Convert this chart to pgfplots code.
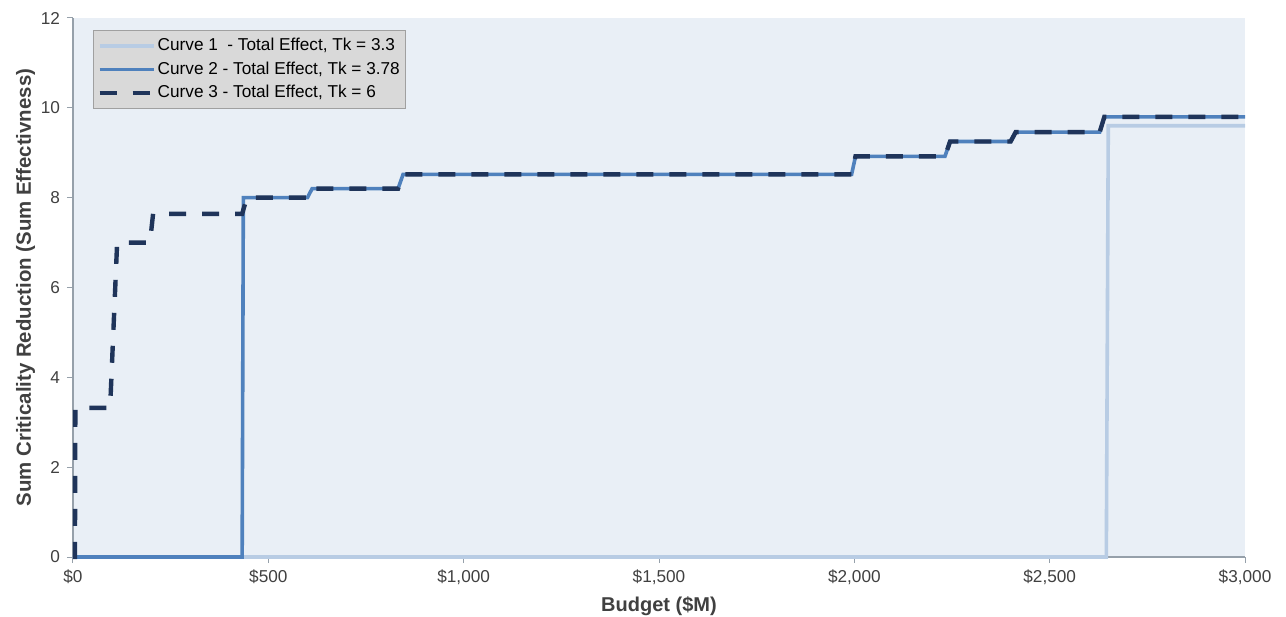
\documentclass[border=0pt]{standalone}
\usepackage{pgfplots}
\pgfplotsset{compat=1.18}
\usepackage{fontspec}
\setmainfont{Liberation Sans}
\definecolor{bgc}{RGB}{233,239,246}
\definecolor{cone}{RGB}{184,204,228}
\definecolor{ctwo}{RGB}{79,129,189}
\definecolor{cthree}{RGB}{31,52,90}
\definecolor{txt}{RGB}{64,64,64}
\definecolor{axc}{RGB}{150,160,170}
\begin{document}
\begin{tikzpicture}
\begin{axis}[
  name=ax,
  scale only axis,
  width=586pt, height=269.5pt,
  xmin=0, xmax=3000, ymin=0, ymax=12,
  axis background/.style={fill=bgc},
  axis x line*=bottom, axis y line*=left,
  axis line style={draw=axc, line width=0.6pt},
  xtick={0,500,1000,1500,2000,2500,3000},
  xticklabels={{\$0},{\$500},{\$1,000},{\$1,500},{\$2,000},{\$2,500},{\$3,000}},
  ytick={0,2,4,6,8,10,12},
  /pgf/number format/assume math mode=true,
  tick style={draw=axc, line width=0.5pt},
  tick align=outside,
  major tick length=3pt,
  ticklabel style={font=\fontsize{8.6pt}{10pt}\selectfont, text=txt},
  xlabel={\textbf{Budget (\$M)}},
  ylabel={\textbf{Sum Criticality Reduction (Sum Effectivness)}},
  xlabel style={font=\fontsize{10pt}{12pt}\selectfont, text=txt, yshift=1pt},
  ylabel style={font=\fontsize{10.2pt}{12pt}\selectfont, text=txt, yshift=-4pt},
  clip=false,
  legend style={at={(axis description cs:0.017,0.978)}, anchor=north west,
    fill={rgb,255:red,217;green,217;blue,217}, draw={rgb,255:red,160;green,160;blue,160},
    font=\fontsize{8.6pt}{10pt}\selectfont, text=black, row sep=0pt,
    inner xsep=2pt, inner ysep=2pt, nodes={inner xsep=1pt}},
  legend cell align=left,
  legend image code/.code={\draw[#1] (0pt,0pt) -- (27pt,0pt);},
]
\addplot[cone, line width=1.8pt] coordinates {
 (0,0) (2645,0) (2650,9.6) (3000,9.6)
};
\addlegendentry{Curve 1\ \ - Total Effect, Tk = 3.3}
\addplot[ctwo, line width=1.8pt] coordinates {
 (0,0) (433,0) (436,8.0) (600,8.0) (612,8.2) (832,8.2) (845,8.52) (1993,8.52)
 (2003,8.92) (2232,8.92) (2245,9.25) (2400,9.25) (2413,9.46) (2628,9.46)
 (2640,9.8) (3000,9.8)
};
\addlegendentry{Curve 2 - Total Effect, Tk = 3.78}
\addplot[cthree, line width=2.2pt, dash pattern=on 8.5pt off 8pt] coordinates {
 (0,0) (5,0) (6,3.32) (95,3.32) (113,7.0) (197,7.0) (205,7.64) (433,7.64)
 (445,8.0) (600,8.0) (612,8.2) (832,8.2) (845,8.52) (1993,8.52)
 (2003,8.92) (2232,8.92) (2245,9.25) (2400,9.25) (2413,9.46) (2628,9.46)
 (2640,9.8) (3000,9.8)
};
\addlegendentry{Curve 3 - Total Effect, Tk = 6}
\end{axis}
\pgfresetboundingbox
\path[use as bounding box] ([xshift=-36.5pt,yshift=-29.5pt]ax.south west) rectangle ([xshift=20.5pt,yshift=9pt]ax.north east);
\end{tikzpicture}
\end{document}
